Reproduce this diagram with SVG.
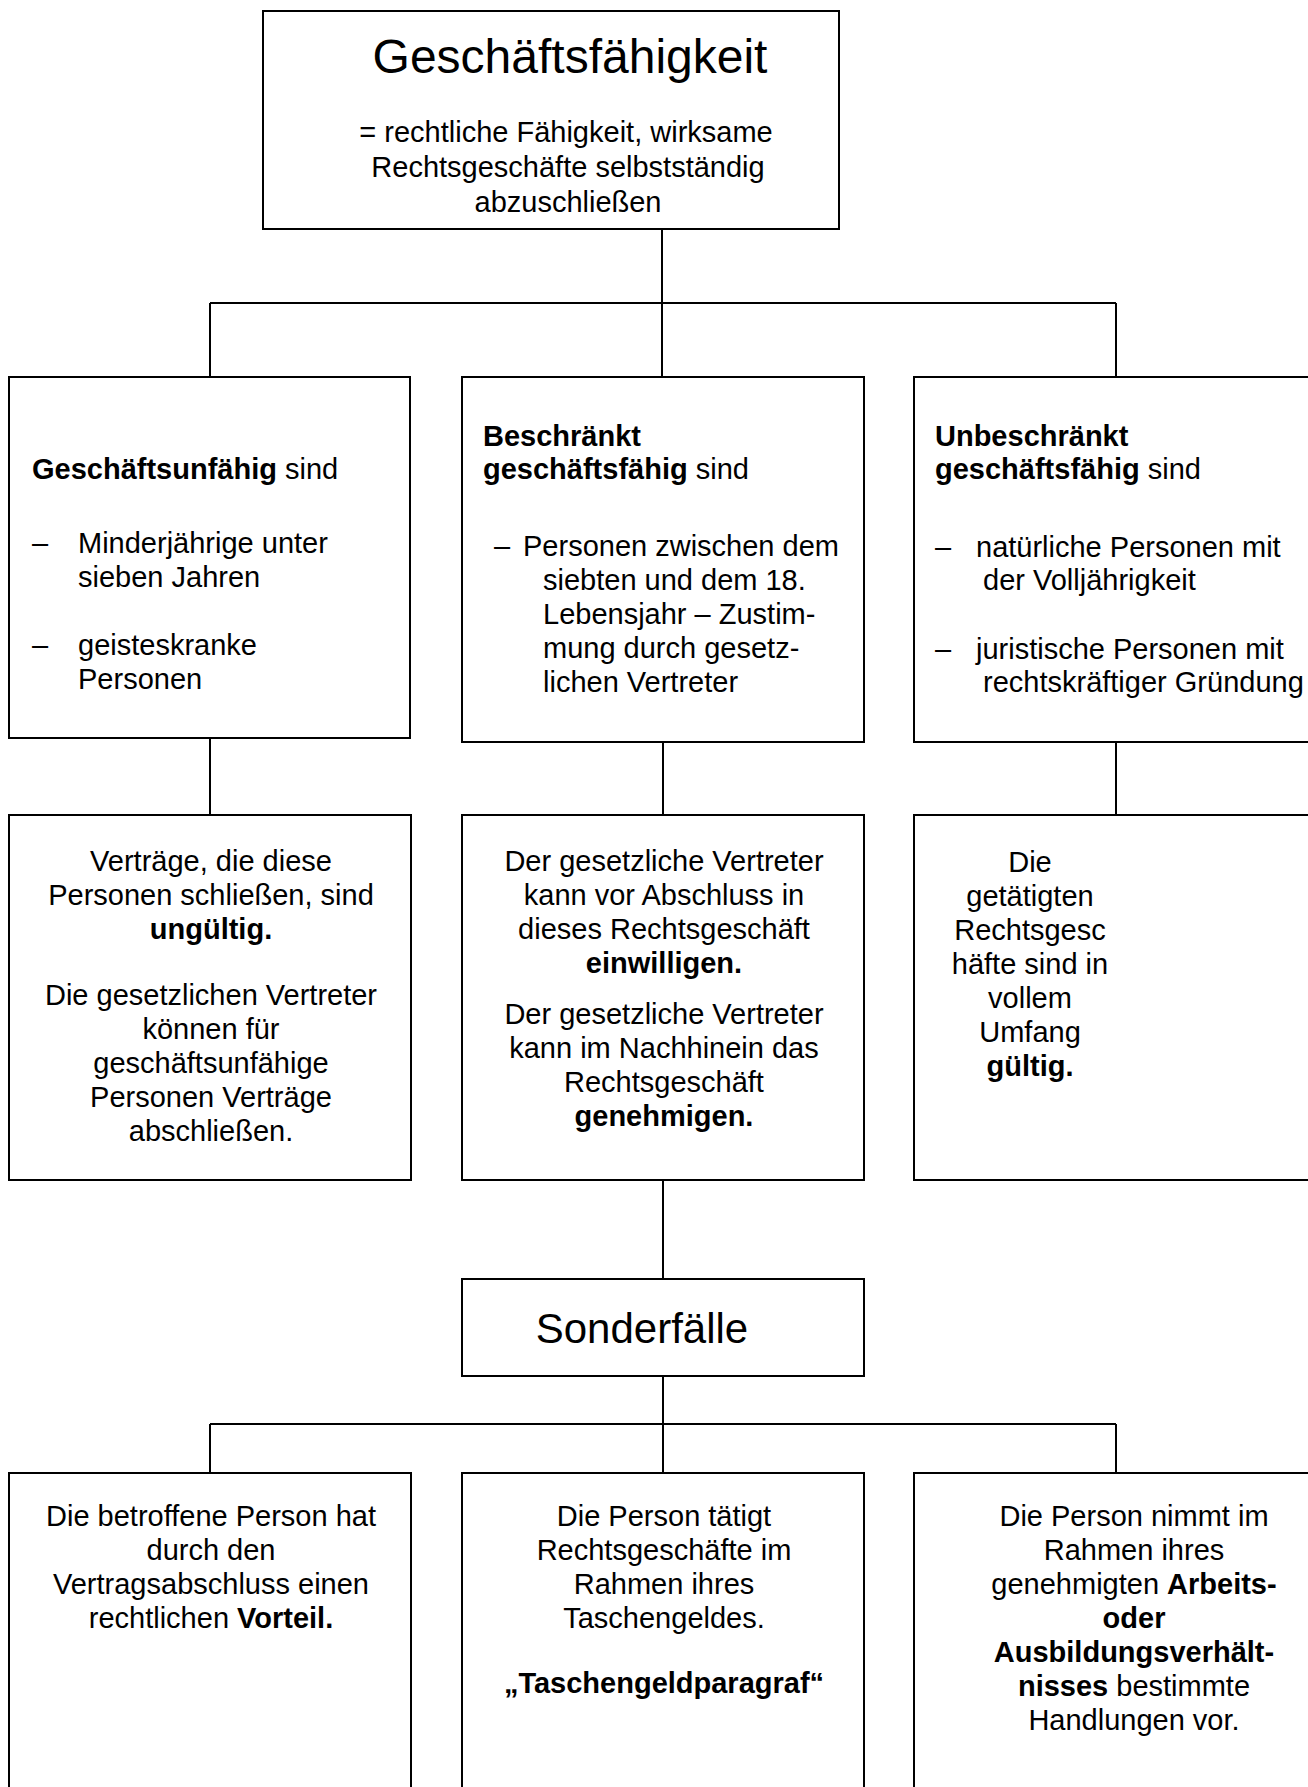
<svg xmlns="http://www.w3.org/2000/svg" width="1308" height="1787" viewBox="0 0 1308 1787">
<style>
  .box { fill: #ffffff; stroke: #000000; stroke-width: 2; }
  .conn { fill: none; stroke: #000000; stroke-width: 2; }
  text { font-family: "Liberation Sans", Arial, sans-serif; fill: #000000; }
  .t { font-size: 29px; }
  .c { text-anchor: middle; }
  .sub { font-size: 29px; text-anchor: middle; }
  .title { font-size: 48px; }
  .title2 { font-size: 42px; }
  .b { font-weight: bold; }
</style>
<rect x="0" y="0" width="1308" height="1787" fill="#ffffff"/>

<g id="connectors">
  <path class="conn" d="M662 229 V303 M210 303 H1116 M210 303 V377 M662 303 V377 M1116 303 V377"/>
  <path class="conn" d="M210 738 V815 M663 742 V815 M1116 742 V815"/>
  <path class="conn" d="M663 1180 V1279"/>
  <path class="conn" d="M663 1376 V1424 M210 1424 H1116 M210 1424 V1473 M663 1424 V1473 M1116 1424 V1473"/>
</g>

<g id="node-geschaeftsfaehigkeit">
  <rect class="box" x="263" y="11" width="576" height="218"/>
  <text class="title c" x="570" y="73">Geschäftsfähigkeit</text>
  <text class="sub" x="566" y="142">= rechtliche Fähigkeit, wirksame</text>
  <text class="sub" x="568" y="177">Rechtsgeschäfte selbstständig</text>
  <text class="sub" x="568" y="212">abzuschließen</text>
</g>

<g id="node-geschaeftsunfaehig">
  <rect class="box" x="9" y="377" width="401" height="361"/>
  <text class="t" x="32" y="479"><tspan class="b">Geschäftsunfähig</tspan> sind</text>
  <text class="t" x="32" y="553">–</text>
  <text class="t" x="78" y="553">Minderjährige unter</text>
  <text class="t" x="78" y="587">sieben Jahren</text>
  <text class="t" x="32" y="655">–</text>
  <text class="t" x="78" y="655">geisteskranke</text>
  <text class="t" x="78" y="689">Personen</text>
</g>

<g id="node-beschraenkt">
  <rect class="box" x="462" y="377" width="402" height="365"/>
  <text class="t b" x="483" y="446">Beschränkt</text>
  <text class="t" x="483" y="479"><tspan class="b">geschäftsfähig</tspan> sind</text>
  <text class="t" x="494" y="556">–</text>
  <text class="t" x="523" y="556">Personen zwischen dem</text>
  <text class="t" x="543" y="590">siebten und dem 18.</text>
  <text class="t" x="543" y="624">Lebensjahr – Zustim-</text>
  <text class="t" x="543" y="658">mung durch gesetz-</text>
  <text class="t" x="543" y="692">lichen Vertreter</text>
</g>

<g id="node-unbeschraenkt">
  <rect class="box" x="914" y="377" width="402" height="365"/>
  <text class="t b" x="935" y="446">Unbeschränkt</text>
  <text class="t" x="935" y="479"><tspan class="b">geschäftsfähig</tspan> sind</text>
  <text class="t" x="935" y="557">–</text>
  <text class="t" x="976" y="557">natürliche Personen mit</text>
  <text class="t" x="983" y="590">der Volljährigkeit</text>
  <text class="t" x="935" y="659">–</text>
  <text class="t" x="976" y="659">juristische Personen mit</text>
  <text class="t" x="983" y="692">rechtskräftiger Gründung</text>
</g>

<g id="node-ungueltig">
  <rect class="box" x="9" y="815" width="402" height="365"/>
  <text class="t c" x="211" y="871">Verträge, die diese</text>
  <text class="t c" x="211" y="905">Personen schließen, sind</text>
  <text class="t c b" x="211" y="939">ungültig.</text>
  <text class="t c" x="211" y="1005">Die gesetzlichen Vertreter</text>
  <text class="t c" x="211" y="1039">können für</text>
  <text class="t c" x="211" y="1073">geschäftsunfähige</text>
  <text class="t c" x="211" y="1107">Personen Verträge</text>
  <text class="t c" x="211" y="1141">abschließen.</text>
</g>

<g id="node-einwilligen">
  <rect class="box" x="462" y="815" width="402" height="365"/>
  <text class="t c" x="664" y="871">Der gesetzliche Vertreter</text>
  <text class="t c" x="664" y="905">kann vor Abschluss in</text>
  <text class="t c" x="664" y="939">dieses Rechtsgeschäft</text>
  <text class="t c b" x="664" y="973">einwilligen.</text>
  <text class="t c" x="664" y="1024">Der gesetzliche Vertreter</text>
  <text class="t c" x="664" y="1058">kann im Nachhinein das</text>
  <text class="t c" x="664" y="1092">Rechtsgeschäft</text>
  <text class="t c b" x="664" y="1126">genehmigen.</text>
</g>

<g id="node-gueltig">
  <rect class="box" x="914" y="815" width="402" height="365"/>
  <text class="t c" x="1030" y="872">Die</text>
  <text class="t c" x="1030" y="906">getätigten</text>
  <text class="t c" x="1030" y="940">Rechtsgesc</text>
  <text class="t c" x="1030" y="974">häfte sind in</text>
  <text class="t c" x="1030" y="1008">vollem</text>
  <text class="t c" x="1030" y="1042">Umfang</text>
  <text class="t c b" x="1030" y="1076">gültig.</text>
</g>

<g id="node-sonderfaelle">
  <rect class="box" x="462" y="1279" width="402" height="97"/>
  <text class="title2 c" x="642" y="1343">Sonderfälle</text>
</g>

<g id="node-vorteil">
  <rect class="box" x="9" y="1473" width="402" height="400"/>
  <text class="t c" x="211" y="1526">Die betroffene Person hat</text>
  <text class="t c" x="211" y="1560">durch den</text>
  <text class="t c" x="211" y="1594">Vertragsabschluss einen</text>
  <text class="t c" x="211" y="1628">rechtlichen <tspan class="b">Vorteil.</tspan></text>
</g>

<g id="node-taschengeld">
  <rect class="box" x="462" y="1473" width="402" height="400"/>
  <text class="t c" x="664" y="1526">Die Person tätigt</text>
  <text class="t c" x="664" y="1560">Rechtsgeschäfte im</text>
  <text class="t c" x="664" y="1594">Rahmen ihres</text>
  <text class="t c" x="664" y="1628">Taschengeldes.</text>
  <text class="t c b" x="664" y="1693">„Taschengeldparagraf“</text>
</g>

<g id="node-arbeitsverhaeltnis">
  <rect class="box" x="914" y="1473" width="402" height="400"/>
  <text class="t c" x="1134" y="1526">Die Person nimmt im</text>
  <text class="t c" x="1134" y="1560">Rahmen ihres</text>
  <text class="t c" x="1134" y="1594">genehmigten <tspan class="b">Arbeits-</tspan></text>
  <text class="t c b" x="1134" y="1628">oder</text>
  <text class="t c b" x="1134" y="1662">Ausbildungsverhält-</text>
  <text class="t c" x="1134" y="1696"><tspan class="b">nisses</tspan> bestimmte</text>
  <text class="t c" x="1134" y="1730">Handlungen vor.</text>
</g>
</svg>
